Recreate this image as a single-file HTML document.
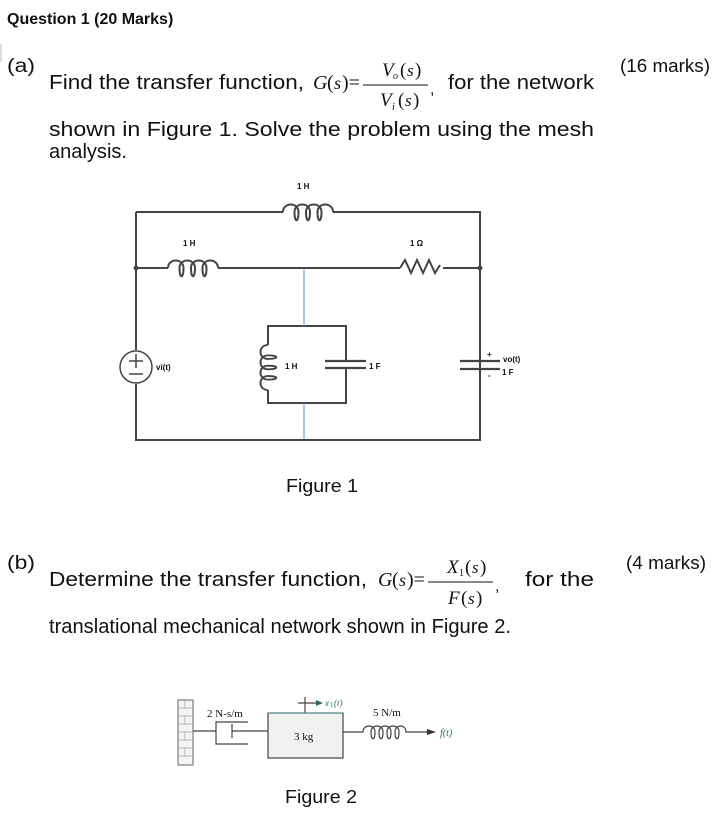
<!DOCTYPE html>
<html><head><meta charset="utf-8"><style>
body{margin:0;background:#fff;width:725px;height:819px;overflow:hidden}
svg{display:block}
text{font-family:"Liberation Sans",Arial,sans-serif;fill:#111}
.m{font-family:"Liberation Serif",serif}
.s{font-family:"Liberation Serif",serif;font-style:italic}
.b{font-weight:bold;font-size:8px}
</style></head><body>
<svg width="725" height="819" viewBox="0 0 725 819">
<defs>
<path id="coil" d="M0 0c0-10 15.5-10 15.5 0c0 11-4 11-4 0c0-10 15.5-10 15.5 0c0 11-4 11-4 0c0-10 15.5-10 15.5 0c0 11-4 11-4 0c0-10 15.5-10 15.5 0" fill="none" stroke="#444" stroke-width="2"/>
</defs>
<text x="7" y="24" font-size="16" font-weight="bold">Question 1 (20 Marks)</text>
<line x1="1" y1="44" x2="1" y2="62" stroke="#bbb"/>
<text x="7" y="72" font-size="19" textLength="28" lengthAdjust="spacingAndGlyphs">(a)</text>
<text x="620" y="72" font-size="18" textLength="90" lengthAdjust="spacingAndGlyphs">(16 marks)</text>
<text x="49" y="89" font-size="20" textLength="255" lengthAdjust="spacingAndGlyphs">Find the transfer function,</text>
<text x="313" y="89" font-size="20" class="s">G</text>
<text x="327" y="89" font-size="20" class="m">(</text><text x="334" y="89" font-size="18" class="s">s</text><text x="342" y="89" font-size="20" class="m">)=</text>
<line x1="363" y1="85" x2="428" y2="85" stroke="#111" stroke-width="1"/>
<text x="382" y="76" font-size="19" class="s">V</text><text x="393" y="79" font-size="10" class="s">o</text><text x="400" y="76" font-size="19" class="m">(</text><text x="407" y="76" font-size="17" class="s">s</text><text x="415" y="76" font-size="19" class="m">)</text>
<text x="380" y="106" font-size="19" class="s">V</text><text x="392" y="110" font-size="10" class="s">i</text><text x="398" y="106" font-size="19" class="m">(</text><text x="405" y="106" font-size="17" class="s">s</text><text x="413" y="106" font-size="19" class="m">)</text>
<text x="430" y="94" font-size="16">,</text>
<text x="448" y="89" font-size="20" textLength="146" lengthAdjust="spacingAndGlyphs">for the network</text>
<text x="49" y="136" font-size="20" textLength="545" lengthAdjust="spacingAndGlyphs">shown in Figure 1. Solve the problem using the mesh</text>
<text x="49" y="158" font-size="20" textLength="78" lengthAdjust="spacingAndGlyphs">analysis.</text>

<!-- Figure 1 -->
<g fill="none" stroke="#444" stroke-width="2">
<path d="M136 212H283M333 212H480V440H136V384M136 350V212"/>
<path d="M136 268H168M218 268H400M443 268H480"/>
<path d="M400 268l5 -8l6 13l6 -13l6 13l6 -13l6 13l5 -8"/>
<path d="M268 345V326H346V361M346 368V403H268V390"/>
<path d="M480 268V361M480 369V440"/>
</g>
<use href="#coil" x="283" y="212"/>
<use href="#coil" x="168" y="268"/>
<use href="#coil" transform="translate(268 390) rotate(-90) scale(0.9 1)"/>
<g stroke="#444" stroke-width="2.2"><line x1="325" y1="361" x2="366" y2="361"/><line x1="325" y1="368" x2="366" y2="368"/>
<line x1="460" y1="361" x2="500" y2="361"/><line x1="460" y1="369" x2="500" y2="369"/></g>
<line x1="304" y1="269" x2="304" y2="326" stroke="#7aa0d8" stroke-width="1.2"/>
<line x1="304" y1="403" x2="304" y2="439" stroke="#7aa0d8" stroke-width="1.2"/>
<circle cx="136" cy="268" r="2.5" fill="#444"/><circle cx="480" cy="268" r="2.5" fill="#444"/>
<circle cx="136" cy="367" r="16" fill="#fff" stroke="#444" stroke-width="1.5"/>
<path d="M129 361h14M136 354v14M129 374h14" stroke="#444" stroke-width="1.5"/>
<text x="156" y="370" class="b">vi(t)</text>
<text x="297" y="189" class="b">1 H</text>
<text x="183" y="246" class="b">1 H</text>
<text x="410" y="246" class="b">1 Ω</text>
<text x="285" y="369" class="b">1 H</text>
<text x="369" y="369" class="b">1 F</text>
<text x="487" y="357" class="b" font-size="10">+</text>
<text x="503" y="362" class="b">vo(t)</text>
<text x="488" y="378" class="b" font-size="10">-</text>
<text x="502" y="375" class="b">1 F</text>
<text x="286" y="492" font-size="18" textLength="72" lengthAdjust="spacingAndGlyphs">Figure 1</text>

<!-- (b) -->
<text x="7" y="569" font-size="19" textLength="28" lengthAdjust="spacingAndGlyphs">(b)</text>
<text x="626" y="569" font-size="18" textLength="80" lengthAdjust="spacingAndGlyphs">(4 marks)</text>
<text x="49" y="586" font-size="20" textLength="318" lengthAdjust="spacingAndGlyphs">Determine the transfer function,</text>
<text x="378" y="586" font-size="20" class="s">G</text>
<text x="392" y="586" font-size="20" class="m">(</text><text x="399" y="586" font-size="18" class="s">s</text><text x="407" y="586" font-size="20" class="m">)=</text>
<line x1="428" y1="582" x2="493" y2="582" stroke="#111"/>
<text x="447" y="573" font-size="19" class="s">X</text><text x="459" y="576" font-size="10" class="m">1</text><text x="465" y="573" font-size="19" class="m">(</text><text x="472" y="573" font-size="17" class="s">s</text><text x="480" y="573" font-size="19" class="m">)</text>
<text x="448" y="604" font-size="19" class="s">F</text><text x="461" y="604" font-size="19" class="m">(</text><text x="468" y="604" font-size="17" class="s">s</text><text x="476" y="604" font-size="19" class="m">)</text>
<text x="495" y="591" font-size="16">,</text>
<text x="525" y="586" font-size="20" textLength="69" lengthAdjust="spacingAndGlyphs">for the</text>
<text x="49" y="633" font-size="20" textLength="462" lengthAdjust="spacingAndGlyphs">translational mechanical network shown in Figure 2.</text>

<!-- Figure 2 -->
<rect x="178" y="700" width="15" height="65" fill="#f4f4f4" stroke="#666"/>
<g stroke="#999" stroke-width="0.7"><path d="M178 708h15M178 716h15M178 724h15M178 732h15M178 740h15M178 748h15M178 756h15M185 700v8M185 716v8M185 732v8M185 748v8"/></g>
<g fill="none" stroke="#444" stroke-width="1.2">
<path d="M193 731H216M248 722H216V744H248M232 731H268M232 724V738"/>
<rect x="268" y="713" width="75" height="45" fill="#f1f1f1"/>
<path d="M343 732H363c0-8 12-8 12 0c0 9-4 9-4 0c0-8 12-8 12 0c0 9-4 9-4 0c0-8 12-8 12 0c0 9-4 9-4 0c0-8 12-8 12 0c0 9-4 9-4 0c0-8 11-8 11 0H428"/>
<path d="M305 713V697M298 703H318"/>
</g>
<line x1="268" y1="713" x2="343" y2="713" stroke="#6a9a9a" stroke-width="1.2"/>
<path d="M436 732l-9-3v6z" fill="#333"/><path d="M323 703l-7-3v6z" fill="#2a6a6a"/>
<text x="207" y="717" font-size="11" class="m">2 N-s/m</text>
<text x="294" y="740" font-size="11" class="m">3 kg</text>
<text x="373" y="716" font-size="11" class="m">5 N/m</text>
<text x="325" y="706" font-size="9" class="s" style="fill:#2a6a6a">x</text><text x="330" y="707" font-size="7" class="m" style="fill:#2a6a6a">1</text><text x="334" y="706" font-size="9" class="s" style="fill:#2a6a6a">(t)</text>
<text x="440" y="736" font-size="10" class="s" style="fill:#2a6a6a">f(t)</text>
<text x="285" y="803" font-size="18" textLength="72" lengthAdjust="spacingAndGlyphs">Figure 2</text>
</svg>
</body></html>
